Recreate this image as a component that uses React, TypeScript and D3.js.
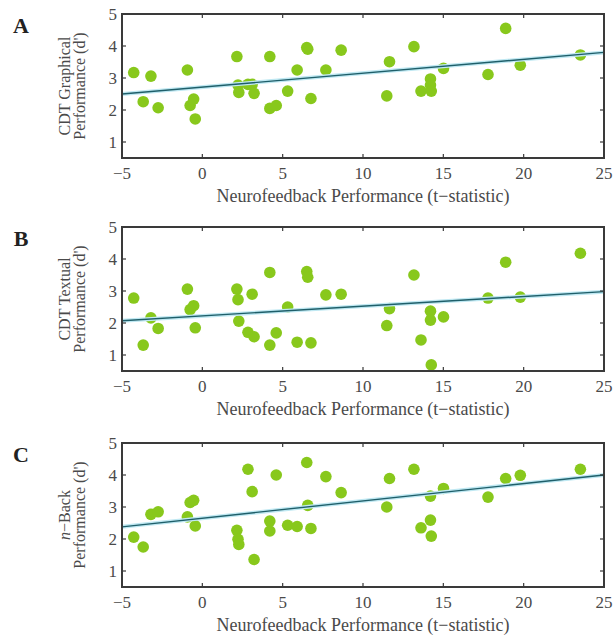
import * as d3 from 'd3';

// neurofeedback t-statistic per subject (shared x for all three panels)
const tStat = [-4.27, -3.68, -3.2, -2.75, -0.93, -0.76, -0.54, -0.44, 2.15, 2.22, 2.27, 2.84, 3.1, 3.22,
    4.2, 4.2, 4.6, 5.31, 5.9, 6.5, 6.56, 6.76, 7.69, 8.64, 11.48, 11.65, 13.17, 13.61, 14.2, 14.2, 14.25,
    15.01, 17.78, 18.88, 19.79, 23.53];

const cdtGraphical = [3.17, 2.26, 3.06, 2.07, 3.25, 2.14, 2.34, 1.72, 3.67, 2.78, 2.55, 2.8, 2.8, 2.52,
    3.67, 2.05, 2.14, 2.59, 3.25, 3.95, 3.9, 2.36, 3.25, 3.87, 2.44, 3.51, 3.98, 2.59, 2.97, 2.78, 2.59,
    3.3, 3.11, 4.55, 3.4, 3.72];

const cdtTextual = [2.78, 1.31, 2.16, 1.83, 3.06, 2.42, 2.54, 1.85, 3.06, 2.73, 2.06, 1.71, 2.9, 1.57,
    3.58, 1.31, 1.69, 2.5, 1.4, 3.61, 3.43, 1.38, 2.88, 2.9, 1.92, 2.45, 3.5, 1.47, 2.37, 2.09, 0.69,
    2.19, 2.78, 3.9, 2.81, 4.18];

const nBack = [2.06, 1.75, 2.77, 2.85, 2.69, 3.14, 3.21, 2.41, 2.27, 1.99, 1.83, 4.18, 3.48, 1.36,
    2.56, 2.25, 4.0, 2.43, 2.39, 4.39, 3.05, 2.33, 3.95, 3.45, 3.0, 3.89, 4.18, 2.35, 3.34, 2.59, 2.09,
    3.58, 3.31, 3.89, 3.99, 4.18];

// fitted line values at x = -5 and x = 25
const fitGraphical = [2.5, 3.8];
const fitTextual = [2.07, 2.98];
const fitNBack = [2.38, 4.0];

const xTicks = [-5, 0, 5, 10, 15, 20, 25];
const yTicks = [1, 2, 3, 4, 5];
const xDomain = [-5, 25];
const yDomain = [0.5, 5];

const panelLetters = ['A', 'B', 'C'];
const yLabels = [['CDT Graphical', "Performance (d')"], ['CDT Textual', "Performance (d')"], ['n\u2212Back', "Performance (d')"]];
const xLabel = 'Neurofeedback Performance (t\u2212statistic)';

const W = 616, H = 636;
const left = 122, right = 604, boxH = 144;
const tops = [14, 227, 443];
const font = '"Liberation Serif", "Times New Roman", serif';
const axisColor = '#3a3a3a';
const textColor = '#4a4a4a';
const dotColor = '#88c81c';

const Panel = ({top, ys, fit, letter, yLabel}) => {
    const x = d3.scaleLinear().domain(xDomain).range([left, right]);
    const y = d3.scaleLinear().domain(yDomain).range([top + boxH, top]);
    const line = d3.line().x(d => x(d[0])).y(d => y(d[1]));
    const fitPts = [[xDomain[0], fit[0]], [xDomain[1], fit[1]]];
    const midY = top + boxH / 2;
    const tl = 4;

    return (
        <g>
            <text x={21} y={top + 19} fontFamily={font} fontWeight="bold" fontSize={22} textAnchor="middle" fill="#222">{letter}</text>
            {yLabel.map((t, i) => (
                <text key={i} transform={`translate(${66 + i * 15},${midY}) rotate(-90)`} textAnchor="middle"
                    dominantBaseline="middle" fontFamily={font} fontSize={16} fill={textColor}>
                    {t.startsWith('n\u2212') ? <><tspan fontStyle="italic">n</tspan>{t.slice(1)}</> : t}
                </text>
            ))}
            {tStat.map((t, i) => (
                <circle key={i} cx={x(t)} cy={y(ys[i])} r={5.8} fill={dotColor} />
            ))}
            <path d={line(fitPts)} stroke="#bfe8f2" strokeWidth={4} fill="none" />
            <path d={line(fitPts)} stroke="#1f5f6a" strokeWidth={1.4} fill="none" />
            <rect x={left} y={top} width={right - left} height={boxH} fill="none" stroke={axisColor} strokeWidth={2} />
            {xTicks.map(t => (
                <g key={'x' + t}>
                    <line x1={x(t)} x2={x(t)} y1={top + boxH} y2={top + boxH - tl} stroke={axisColor} strokeWidth={1.2} />
                    <line x1={x(t)} x2={x(t)} y1={top} y2={top + tl} stroke={axisColor} strokeWidth={1.2} />
                    <text x={x(t)} y={top + boxH + 21} textAnchor="middle" fontFamily={font} fontSize={17} fill={textColor}>
                        {t < 0 ? '\u2212' + Math.abs(t) : t}
                    </text>
                </g>
            ))}
            {yTicks.map(t => (
                <g key={'y' + t}>
                    <line x1={left} x2={left + tl} y1={y(t)} y2={y(t)} stroke={axisColor} strokeWidth={1.2} />
                    <line x1={right} x2={right - tl} y1={y(t)} y2={y(t)} stroke={axisColor} strokeWidth={1.2} />
                    <text x={left - 5} y={y(t)} dy="0.35em" textAnchor="end" fontFamily={font} fontSize={17} fill={textColor}>{t}</text>
                </g>
            ))}
            <text x={(left + right) / 2} y={top + boxH + 44} textAnchor="middle" fontFamily={font} fontSize={18} fill={textColor}>{xLabel}</text>
        </g>
    );
};

export default function App() {
    const series = [cdtGraphical, cdtTextual, nBack];
    const fits = [fitGraphical, fitTextual, fitNBack];
    return (
        <div style={{position: 'absolute', left: 0, top: 0}}>
            <svg width={W} height={H} style={{display: 'block', background: '#fff'}}>
                {series.map((s, i) => (
                    <Panel key={i} top={tops[i]} ys={s} fit={fits[i]} letter={panelLetters[i]} yLabel={yLabels[i]} />
                ))}
            </svg>
        </div>
    );
}
